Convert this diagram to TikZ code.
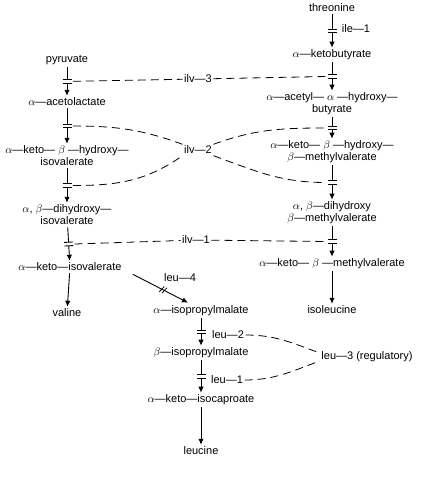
\documentclass[tikz,border=0pt]{standalone}
\usepackage{fontspec}
\setmainfont{Liberation Sans}
\usetikzlibrary{arrows.meta,decorations.markings}
\newcommand{\metfont}{\fontsize{11}{12}\selectfont}

\tikzset{
  met/.style={font=\metfont, align=center, inner sep=2pt},
  enz/.style={font=\metfont, inner sep=1.5pt},
  plainstep/.style={line width=0.9pt, -{Latex[length=6pt,width=5.5pt]}},
  stepline/.style={plainstep, postaction={decorate},
    decoration={markings, mark=at position 0.5 with {
      \fill[white] (-1.8pt,-5pt) rectangle (1.8pt,5pt);
      \draw[-, line width=0.9pt] (-1.8pt,-4.5pt) -- (-1.8pt,4.5pt) (1.8pt,-4.5pt) -- (1.8pt,4.5pt);}}},
  slashline/.style={plainstep, postaction={decorate},
    decoration={markings, mark=at position 0.55 with {
      \draw[-, line width=0.8pt] (-2.5pt,-3.5pt) -- (-0.5pt,3.5pt) (0.5pt,-3.5pt) -- (2.5pt,3.5pt);}}},
  ctrl/.style={line width=0.8pt, dash pattern=on 8pt off 5pt}
}

\begin{document}
\begin{tikzpicture}[x=1pt,y=1pt]
\useasboundingbox (0,0) rectangle (438,-480);
% valine branch
\node[met] (pyr) at (67,-60) {pyruvate};
\node[met] (acl) at (67,-102) {$\alpha$---acetolactate};
\node[met] (khi) at (67,-156) {$\alpha$---keto--- $\beta$ ---hydroxy---\\isovalerate};
\node[met] (dhi) at (67,-215) {$\alpha$, $\beta$---dihydroxy---\\isovalerate};
\node[met] (kiv) at (70,-267) {$\alpha$---keto---isovalerate};
\node[met] (val) at (67,-313) {valine};
% isoleucine branch
\node[met] (thr) at (332,-8) {threonine};
\node[met] (akb) at (332,-55) {$\alpha$---ketobutyrate};
\node[met] (aah) at (332,-104) {$\alpha$---acetyl--- $\alpha$ ---hydroxy---\\butyrate};
\node[met] (khm) at (332,-152) {$\alpha$---keto--- $\beta$ ---hydroxy---\\$\beta$---methylvalerate};
\node[met] (dhm) at (332,-213) {$\alpha$, $\beta$---dihydroxy\\$\beta$---methylvalerate};
\node[met] (kmv) at (332,-264) {$\alpha$---keto--- $\beta$ ---methylvalerate};
\node[met] (ile) at (332,-310) {isoleucine};
% leucine branch
\node[met] (ipm) at (201,-311) {$\alpha$---isopropylmalate};
\node[met] (bipm) at (201,-353) {$\beta$---isopropylmalate};
\node[met] (kic) at (201,-400) {$\alpha$---keto---isocaproate};
\node[met] (leu) at (201,-451) {leucine};
% genes
\node[enz] (ile1) at (356,-29) {ile---1};
\node[enz] (ilv3) at (198,-79) {ilv---3};
\node[enz] (ilv2) at (198,-150) {ilv---2};
\node[enz] (ilv1) at (196,-240) {ilv---1};
\node[enz] (leu4) at (180,-278) {leu---4};
\node[enz] (leu2) at (228,-335) {leu---2};
\node[enz] (leu1) at (227,-380) {leu---1};
\node[enz] (leu3) at (367,-357) {leu---3 (regulatory)};

% steps
\draw[stepline] (pyr) -- coordinate (gl1) (acl);
\draw[stepline] (acl) -- coordinate (gl2) (khi);
\draw[stepline] (khi) -- coordinate (gl3) (dhi);
\draw[stepline] (dhi) -- coordinate (gl4) (kiv);
\draw[plainstep] (kiv) -- (val);
\draw[stepline] (thr) -- (akb);
\draw[stepline] (akb) -- coordinate (gr2) (aah);
\draw[stepline] (aah) -- coordinate (gr3) (khm);
\draw[stepline] (khm) -- coordinate (gr4) (dhm);
\draw[stepline] (dhm) -- coordinate (gr5) (kmv);
\draw[plainstep] (kmv) -- (ile);
\draw[slashline] ([xshift=9pt,yshift=-1pt]kiv.south east) -- ([xshift=-13pt,yshift=1pt]ipm.north);
\draw[stepline] (ipm) -- (bipm);
\draw[stepline] (bipm) -- (kic);
\draw[plainstep] (kic) -- (leu);

% enzyme links
\draw[ctrl] ([xshift=6pt]gl1) -- (ilv3);
\draw[ctrl] (ilv3) -- ([xshift=-6pt]gr2);
\draw[ctrl] ([xshift=6pt]gl2) to[out=0,in=160] (ilv2.north west);
\draw[ctrl] ([xshift=6pt]gl3) to[out=0,in=215] (ilv2.south west);
\draw[ctrl] (ilv2.north east) to[out=20,in=180] ([xshift=-6pt]gr3);
\draw[ctrl] (ilv2.south east) to[out=-20,in=180] ([xshift=-6pt]gr4);
\draw[ctrl] ([xshift=6pt]gl4) -- (ilv1);
\draw[ctrl] (ilv1) -- ([xshift=-6pt]gr5);
\draw[ctrl] (leu2.east) to[out=0,in=160] ([yshift=4pt]leu3.west);
\draw[ctrl] (leu1.east) to[out=0,in=200] ([yshift=-4pt]leu3.west);
\end{tikzpicture}
\end{document}
